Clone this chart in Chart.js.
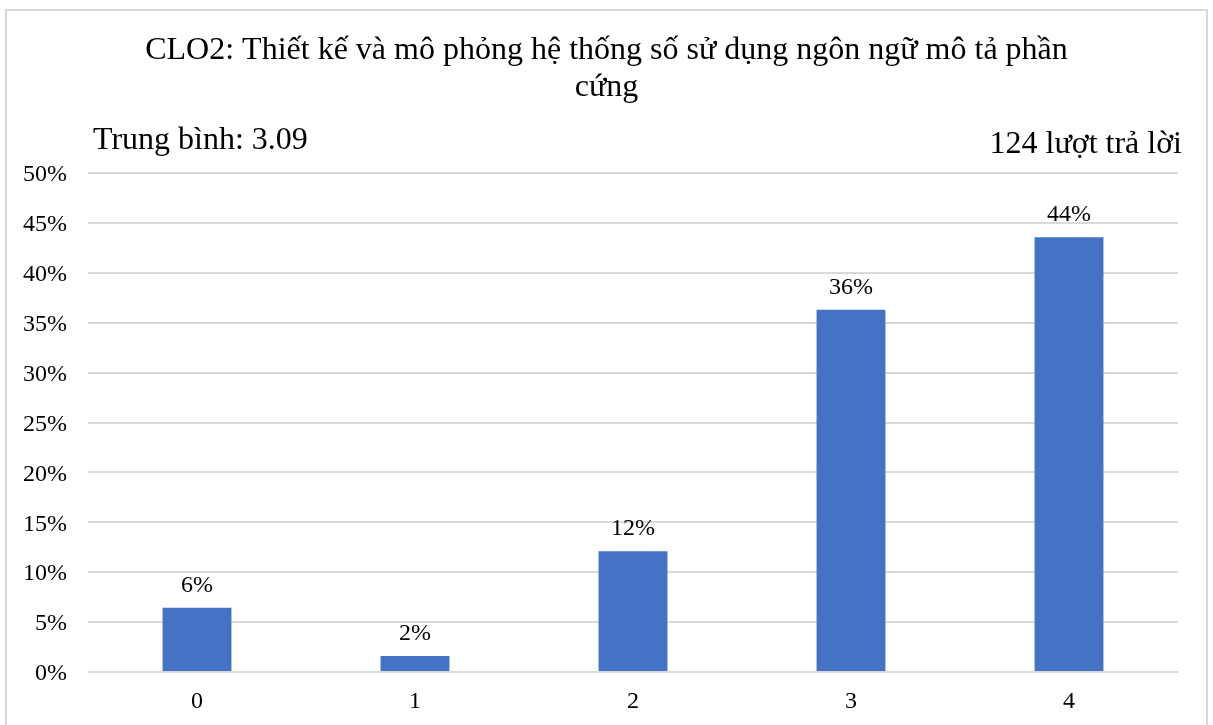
<!DOCTYPE html>
<html>
<head>
<meta charset="utf-8">
<script src="https://cdn.jsdelivr.net/npm/chart.js@4/dist/chart.umd.min.js"></script>
<style>
  html, body { margin: 0; padding: 0; background: #ffffff; }
  canvas { display: block; }
</style>
</head>
<body>
<canvas id="chart" width="1213" height="725"></canvas>
<script>
// Response distribution for CLO2 (share of responses per score, in %)
const categories = ['0', '1', '2', '3', '4'];
const shares = [6.45, 1.61, 12.10, 36.29, 43.55];

const titleLines = ['CLO2: Thiết kế và mô phỏng hệ thống số sử dụng ngôn ngữ mô tả phần', 'cứng'];
const averageText = 'Trung bình: 3.09';
const responsesText = '124 lượt trả lời';

const SERIF = "'Liberation Serif', 'Times New Roman', serif";
const BAR_COLOR = '#4472c4';
const GRID_COLOR = '#d9d9d9';

// Background, frame and header texts
const headerPlugin = {
  id: 'header',
  beforeDraw(chart) {
    const ctx = chart.ctx;
    const w = chart.width;
    ctx.save();
    ctx.fillStyle = '#ffffff';
    ctx.fillRect(0, 0, w, chart.height);
    ctx.strokeStyle = GRID_COLOR;
    ctx.lineWidth = 2;
    ctx.strokeRect(6, 10, 1201, 730);

    ctx.fillStyle = '#000000';
    ctx.textBaseline = 'alphabetic';
    ctx.font = '32px ' + SERIF;
    ctx.textAlign = 'center';
    ctx.fillText(titleLines[0], w / 2, 59);
    ctx.fillText(titleLines[1], w / 2, 96);

    ctx.font = '32px ' + SERIF;
    ctx.textAlign = 'left';
    ctx.fillText(averageText, 93, 149);
    ctx.textAlign = 'right';
    ctx.fillText(responsesText, 1182, 153);
    ctx.restore();
  }
};

// Rounded percentage above each bar
const valueLabelPlugin = {
  id: 'valueLabels',
  afterDatasetsDraw(chart) {
    const ctx = chart.ctx;
    const meta = chart.getDatasetMeta(0);
    const data = chart.data.datasets[0].data;
    ctx.save();
    ctx.font = '24px ' + SERIF;
    ctx.fillStyle = '#000000';
    ctx.textAlign = 'center';
    ctx.textBaseline = 'alphabetic';
    meta.data.forEach((bar, i) => {
      ctx.fillText(Math.round(data[i]) + '%', bar.x, bar.y - 16);
    });
    ctx.restore();
  }
};

new Chart(document.getElementById('chart'), {
  type: 'bar',
  data: {
    labels: categories,
    datasets: [{
      data: shares,
      backgroundColor: BAR_COLOR,
      borderWidth: 0,
      barPercentage: 0.316,
      categoryPercentage: 1.0
    }]
  },
  options: {
    responsive: false,
    devicePixelRatio: 1,
    animation: false,
    layout: { padding: { top: 173, right: 35, left: 0, bottom: 0 } },
    plugins: {
      legend: { display: false },
      tooltip: { enabled: false },
      title: { display: false }
    },
    scales: {
      x: {
        grid: { display: false, drawTicks: false },
        border: { display: false },
        ticks: {
          color: '#000000',
          font: { family: SERIF, size: 24 },
          padding: 15
        },
        afterFit(scale) { scale.height = 53; }
      },
      y: {
        min: 0,
        max: 50,
        grid: { color: GRID_COLOR, lineWidth: 2, drawTicks: false },
        border: { display: false },
        ticks: {
          stepSize: 5,
          color: '#000000',
          font: { family: SERIF, size: 24 },
          padding: 21,
          labelOffset: 2,
          callback: (v) => v + '%'
        },
        afterFit(scale) { scale.width = 88; }
      }
    }
  },
  plugins: [headerPlugin, valueLabelPlugin]
});
</script>
</body>
</html>
